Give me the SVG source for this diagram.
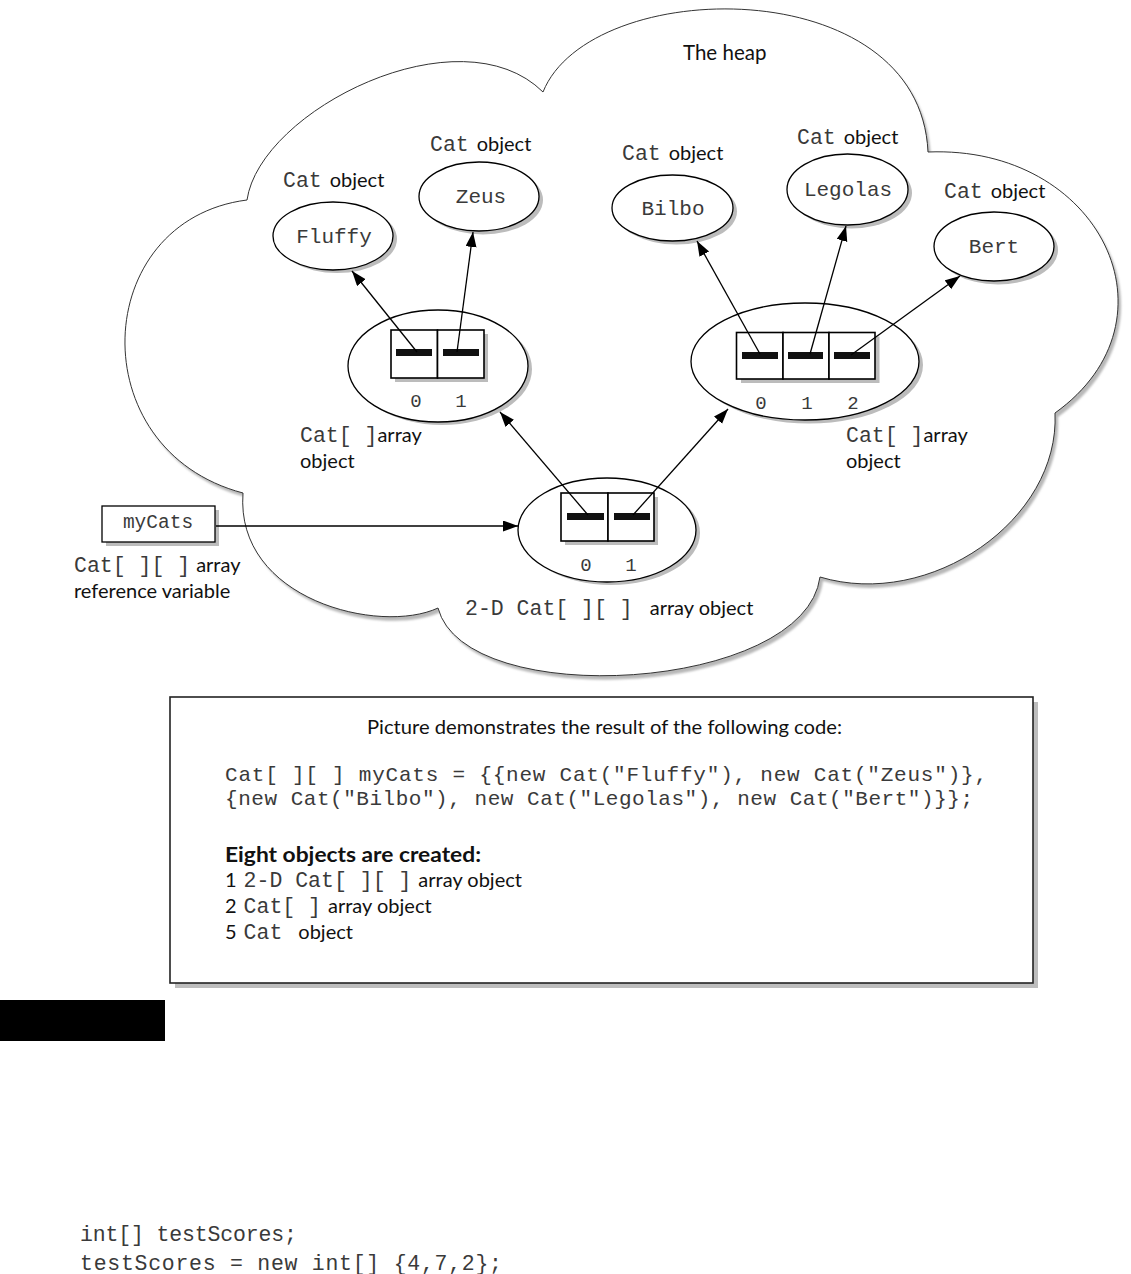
<svg xmlns="http://www.w3.org/2000/svg" width="1131" height="1274" viewBox="0 0 1131 1274">
<style>
.sans{font-family:Lato,"Open Sans","Liberation Sans",sans-serif;fill:#111;}
.mono{font-family:"Liberation Mono","DejaVu Sans Mono",monospace;fill:#3a3a3a;}
.lbl{font-size:20px;}
.m{font-size:21.5px;}
.nm{font-size:21px;}
.idx{font-size:19px;}
.node{fill:#fff;stroke:#000;stroke-width:1.3;}
.shad{fill:#bcbcbc;stroke:none;}
.cell{fill:#fff;stroke:#000;stroke-width:1.6;}
.bar{fill:#111;}
.conn{stroke:#000;stroke-width:1.3;fill:none;marker-end:url(#ah);}
</style>
<defs>
<marker id="ah" markerUnits="userSpaceOnUse" markerWidth="16" markerHeight="12" refX="15" refY="5.5" orient="auto">
<path d="M0,0 L15,5.5 L0,11 z" fill="#000"/>
</marker>
<filter id="blur" x="-5%" y="-5%" width="110%" height="110%"><feGaussianBlur stdDeviation="1.2"/></filter>
</defs>
<rect width="1131" height="1274" fill="#fff"/>

<g id="heap">
<path transform="translate(3,4)" filter="url(#blur)" fill="#b8b8b8" d="M 247 200 C 260 110 460 10 543 92 C 590 -25 920 -30 928 152 C 1100 145 1185 320 1055 413 C 1060 520 930 610 820 577 C 805 692 465 712 438 608 C 380 635 235 600 243 493 C 80 450 90 220 247 200 Z"/>
<path fill="#fff" stroke="#333" stroke-width="1" d="M 247 200 C 260 110 460 10 543 92 C 590 -25 920 -30 928 152 C 1100 145 1185 320 1055 413 C 1060 520 930 610 820 577 C 805 692 465 712 438 608 C 380 635 235 600 243 493 C 80 450 90 220 247 200 Z"/>
<text class="sans" x="683" y="60" font-size="20.5">The heap</text>
</g>

<g id="cat-fluffy">
<ellipse class="shad" cx="337" cy="239" rx="60" ry="34"/>
<ellipse class="node" cx="333" cy="236" rx="60" ry="34"/>
<text class="mono nm" x="334" y="243" text-anchor="middle">Fluffy</text>
<text class="lbl" x="283" y="187"><tspan class="mono m">Cat</tspan><tspan class="sans" dx="8">object</tspan></text>
</g>

<g id="cat-zeus">
<ellipse class="shad" cx="483" cy="200" rx="60" ry="34.5"/>
<ellipse class="node" cx="479" cy="196.5" rx="60" ry="34.5"/>
<text class="mono nm" x="481" y="203" text-anchor="middle">Zeus</text>
<text class="lbl" x="430" y="151"><tspan class="mono m">Cat</tspan><tspan class="sans" dx="8">object</tspan></text>
</g>

<g id="cat-bilbo">
<ellipse class="shad" cx="676.5" cy="211.5" rx="60.5" ry="33"/>
<ellipse class="node" cx="672.5" cy="208" rx="60.5" ry="33"/>
<text class="mono nm" x="673" y="215" text-anchor="middle">Bilbo</text>
<text class="lbl" x="622" y="160"><tspan class="mono m">Cat</tspan><tspan class="sans" dx="8">object</tspan></text>
</g>

<g id="cat-legolas">
<ellipse class="shad" cx="851.5" cy="193" rx="60.5" ry="35.5"/>
<ellipse class="node" cx="847.5" cy="189.5" rx="60.5" ry="35.5"/>
<text class="mono nm" x="848" y="196" text-anchor="middle">Legolas</text>
<text class="lbl" x="797" y="144"><tspan class="mono m">Cat</tspan><tspan class="sans" dx="8">object</tspan></text>
</g>

<g id="cat-bert">
<ellipse class="shad" cx="998" cy="250" rx="60" ry="34.5"/>
<ellipse class="node" cx="994" cy="246.5" rx="60" ry="34.5"/>
<text class="mono nm" x="994" y="253" text-anchor="middle">Bert</text>
<text class="lbl" x="944" y="198"><tspan class="mono m">Cat</tspan><tspan class="sans" dx="8">object</tspan></text>
</g>

<g id="array-left">
<ellipse class="shad" cx="442" cy="369" rx="90" ry="56"/>
<ellipse class="node" cx="438" cy="366" rx="90" ry="56"/>
<rect class="shad" x="395" y="334" width="93" height="48"/>
<rect class="cell" x="391" y="330" width="46.5" height="48"/>
<rect class="cell" x="437.5" y="330" width="46.5" height="48"/>
<rect class="bar" x="396" y="349" width="36" height="7"/>
<rect class="bar" x="443" y="349" width="36" height="7"/>
<text class="mono idx" x="416" y="407" text-anchor="middle">0</text>
<text class="mono idx" x="461" y="407" text-anchor="middle">1</text>
<text class="lbl" x="300" y="442"><tspan class="mono m">Cat[ ]</tspan><tspan class="sans">array</tspan></text>
<text class="sans lbl" x="300" y="468">object</text>
</g>

<g id="array-right">
<ellipse class="shad" cx="809" cy="365" rx="114" ry="58.5"/>
<ellipse class="node" cx="805" cy="361.5" rx="114" ry="58.5"/>
<rect class="shad" x="741" y="336.5" width="138.5" height="46.5"/>
<rect class="cell" x="736.5" y="332.5" width="46.5" height="46.5"/>
<rect class="cell" x="783" y="332.5" width="46" height="46.5"/>
<rect class="cell" x="829" y="332.5" width="46" height="46.5"/>
<rect class="bar" x="742" y="352" width="36" height="7"/>
<rect class="bar" x="788" y="352" width="35" height="7"/>
<rect class="bar" x="834" y="352" width="36" height="7"/>
<text class="mono idx" x="761" y="409" text-anchor="middle">0</text>
<text class="mono idx" x="807" y="409" text-anchor="middle">1</text>
<text class="mono idx" x="853" y="409" text-anchor="middle">2</text>
<text class="lbl" x="846" y="442"><tspan class="mono m">Cat[ ]</tspan><tspan class="sans">array</tspan></text>
<text class="sans lbl" x="846" y="468">object</text>
</g>

<g id="array-2d">
<ellipse class="shad" cx="611" cy="533" rx="89" ry="52"/>
<ellipse class="node" cx="607" cy="530" rx="89" ry="52"/>
<rect class="shad" x="565" y="497" width="93" height="48"/>
<rect class="cell" x="561" y="493" width="47" height="48"/>
<rect class="cell" x="608" y="493" width="46" height="48"/>
<rect class="bar" x="567" y="513" width="37" height="7"/>
<rect class="bar" x="614" y="513" width="36" height="7"/>
<text class="mono idx" x="586" y="571" text-anchor="middle">0</text>
<text class="mono idx" x="631" y="571" text-anchor="middle">1</text>
<text class="lbl" x="465" y="615"><tspan class="mono m">2-D Cat[ ][ ]</tspan><tspan class="sans" dx="17">array object</tspan></text>
</g>

<g id="mycats">
<rect class="shad" x="106" y="510" width="113" height="36"/>
<rect class="node" x="102" y="506" width="113" height="36"/>
<text class="mono" font-size="19.5" x="158" y="528" text-anchor="middle">myCats</text>
<text class="lbl" x="74" y="572"><tspan class="mono m">Cat[ ][ ]</tspan><tspan class="sans" dx="6">array</tspan></text>
<text class="sans lbl" x="74" y="598">reference variable</text>
</g>

<g id="connectors">
<line class="conn" x1="417" y1="352" x2="352" y2="271"/>
<line class="conn" x1="457" y1="352" x2="473" y2="232"/>
<line class="conn" x1="760" y1="354" x2="697" y2="241"/>
<line class="conn" x1="810" y1="354" x2="846" y2="226"/>
<line class="conn" x1="851" y1="355" x2="960" y2="276"/>
<line class="conn" x1="588" y1="515" x2="500" y2="412"/>
<line class="conn" x1="633" y1="515" x2="728" y2="409"/>
<line class="conn" x1="216" y1="526" x2="518" y2="526"/>
</g>

<g id="code-box">
<rect x="175" y="702" width="863" height="286" fill="#bdbdbd"/>
<rect x="170" y="697" width="863" height="286" fill="#fff" stroke="#222" stroke-width="1.6"/>
<text class="sans" font-size="20" x="367" y="734" textLength="475" lengthAdjust="spacingAndGlyphs">Picture demonstrates the result of the following code:</text>
<text class="mono" font-size="21" x="225" y="781" textLength="762" lengthAdjust="spacing">Cat[ ][ ] myCats = {{new Cat("Fluffy"), new Cat("Zeus")},</text>
<text class="mono" font-size="21" x="225" y="805" textLength="748" lengthAdjust="spacing">{new Cat("Bilbo"), new Cat("Legolas"), new Cat("Bert")}};</text>
<text class="sans" font-size="21" font-weight="bold" x="225" y="862" textLength="256" lengthAdjust="spacingAndGlyphs">Eight objects are created:</text>
<text class="lbl" x="225" y="887"><tspan class="sans">1</tspan><tspan class="mono m" dx="7">2-D Cat[ ][ ]</tspan><tspan class="sans" dx="7">array object</tspan></text>
<text class="lbl" x="225" y="913"><tspan class="sans">2</tspan><tspan class="mono m" dx="7">Cat[ ]</tspan><tspan class="sans" dx="7">array object</tspan></text>
<text class="lbl" x="225" y="939"><tspan class="sans">5</tspan><tspan class="mono m" dx="7">Cat</tspan><tspan class="sans" dx="16">object</tspan></text>
</g>

<rect x="0" y="1000" width="165" height="41" fill="#000"/>

<text class="mono" font-size="21.5" x="80" y="1241" fill="#222" textLength="217" lengthAdjust="spacing">int[] testScores;</text>
<text class="mono" font-size="21.5" x="80" y="1270" fill="#222" textLength="422" lengthAdjust="spacing">testScores = new int[] {4,7,2};</text>
</svg>
